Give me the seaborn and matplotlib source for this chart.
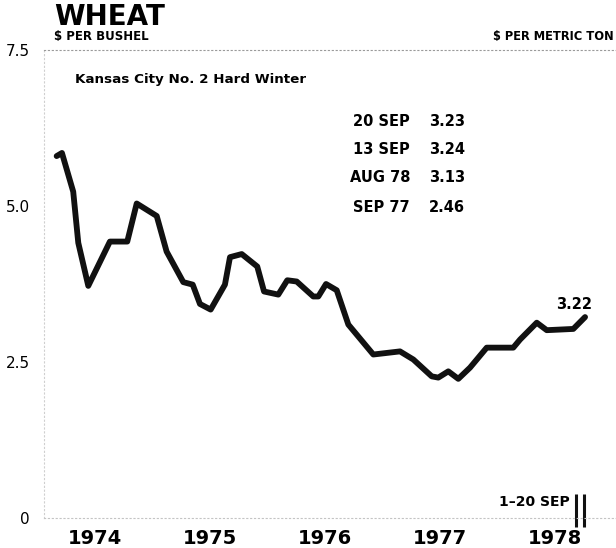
import matplotlib
matplotlib.use("Agg")
import matplotlib.pyplot as plt
import seaborn as sns
import pandas as pd

# Kansas City No. 2 Hard Winter wheat, $ per bushel (time in decimal years)
dates = [1974.167, 1974.213, 1974.311, 1974.355, 1974.442, 1974.630, 1974.781,
         1974.863, 1975.037, 1975.123, 1975.268, 1975.350, 1975.413, 1975.506,
         1975.630, 1975.674, 1975.776, 1975.911, 1975.970, 1976.094, 1976.172,
         1976.254, 1976.398, 1976.442, 1976.509, 1976.602, 1976.703, 1976.920,
         1977.152, 1977.268, 1977.428, 1977.485, 1977.572, 1977.659, 1977.761,
         1977.906, 1978.137, 1978.196, 1978.341, 1978.428, 1978.659, 1978.761]
prices = [5.80, 5.85, 5.23, 4.41, 3.72, 4.43, 4.43,
          5.04, 4.84, 4.27, 3.78, 3.74, 3.43, 3.34,
          3.74, 4.18, 4.23, 4.03, 3.63, 3.58, 3.81,
          3.79, 3.55, 3.55, 3.75, 3.65, 3.10, 2.62,
          2.67, 2.54, 2.27, 2.25, 2.35, 2.23, 2.41,
          2.73, 2.73, 2.86, 3.13, 3.01, 3.03, 3.22]

years = [1974, 1975, 1976, 1977, 1978]
y_ticks = [0, 2.5, 5.0, 7.5]
y_tick_labels = ["0", "2.5", "5.0", "7.5"]

recent_labels = ["20 SEP", "13 SEP", "AUG 78", "SEP 77"]
recent_values = [3.23, 3.24, 3.13, 2.46]

# September 1978 weekly period
sep_period = [1978.683, 1978.752]
sep_label = "1\u201320 SEP"

df = pd.DataFrame({"date": dates, "price": prices})

sns.set_theme(style="white")
plt.rcParams["font.family"] = ["DejaVu Sans"]
plt.rcParams["text.color"] = "black"
plt.rcParams["xtick.color"] = "black"
plt.rcParams["ytick.color"] = "black"
plt.rcParams["axes.labelcolor"] = "black"

W, H = 616, 548
fig = plt.figure(figsize=(W / 100, H / 100), dpi=100)
fig.patch.set_facecolor("white")


def fx(px):
    return px / W


def fy(py):
    return 1 - py / H


ax = fig.add_axes([fx(44), fy(518), 1 - fx(44), fy(50) - fy(518)])
ax.set_facecolor("white")

sns.lineplot(data=df, x="date", y="price", ax=ax, color="#111111",
             linewidth=4.2, sort=False, estimator=None)

ax.set_xlim(1974.057, 1979.030)
ax.set_ylim(0, 7.5)

ax.set_xticks([y + 0.5 for y in years])
ax.set_xticklabels([str(y) for y in years], fontsize=14, fontweight="bold")
ax.set_yticks(y_ticks)
ax.set_yticklabels(y_tick_labels, fontsize=11)
ax.tick_params(axis="x", length=0, pad=8, colors="black")
ax.tick_params(axis="y", length=0, pad=10, colors="black")
ax.set_xlabel("")
ax.set_ylabel("")

for side in ["top", "bottom", "left"]:
    ax.spines[side].set_visible(True)
    ax.spines[side].set_linestyle((0, (1, 2.5)))
    ax.spines[side].set_linewidth(0.8)
ax.spines["top"].set_color("#9a9a9a")
ax.spines["bottom"].set_color("#c4c4c4")
ax.spines["left"].set_color("#cfcfcf")
ax.spines["right"].set_visible(False)

# latest weekly value at the end of the line
ax.annotate(f"{prices[-1]:.2f}", xy=(dates[-1], prices[-1]),
            xytext=(-7.6, 9), textcoords="offset points",
            ha="center", va="center", fontsize=10.5, fontweight="bold")

# period marks below the end of the line
ax.vlines(sep_period, -0.14, 0.39, colors="#111111", linewidth=2.2,
          clip_on=False)
fig.text(fx(570), fy(502), sep_label, ha="right", va="center",
         fontsize=10, fontweight="bold")

# headings
fig.text(fx(54), fy(25), "WHEAT", ha="left", va="baseline",
         fontsize=20, fontweight="bold")
fig.text(fx(54), fy(40), "$ PER BUSHEL", ha="left", va="baseline",
         fontsize=8.5, fontweight="bold")
fig.text(fx(614), fy(40), "$ PER METRIC TON", ha="right", va="baseline",
         fontsize=8.3, fontweight="bold")
fig.text(fx(75), fy(80), "Kansas City No. 2 Hard Winter", ha="left",
         va="center", fontsize=9.7, fontweight="bold")

# recent price table
row_y = [121, 149, 178, 207]
for lab, val, py in zip(recent_labels, recent_values, row_y):
    fig.text(fx(410), fy(py), lab, ha="right", va="center",
             fontsize=10.5, fontweight="bold")
    fig.text(fx(429), fy(py), f"{val:.2f}", ha="left", va="center",
             fontsize=10.5, fontweight="bold")

fig.savefig("out.png", dpi=100, facecolor="white")
